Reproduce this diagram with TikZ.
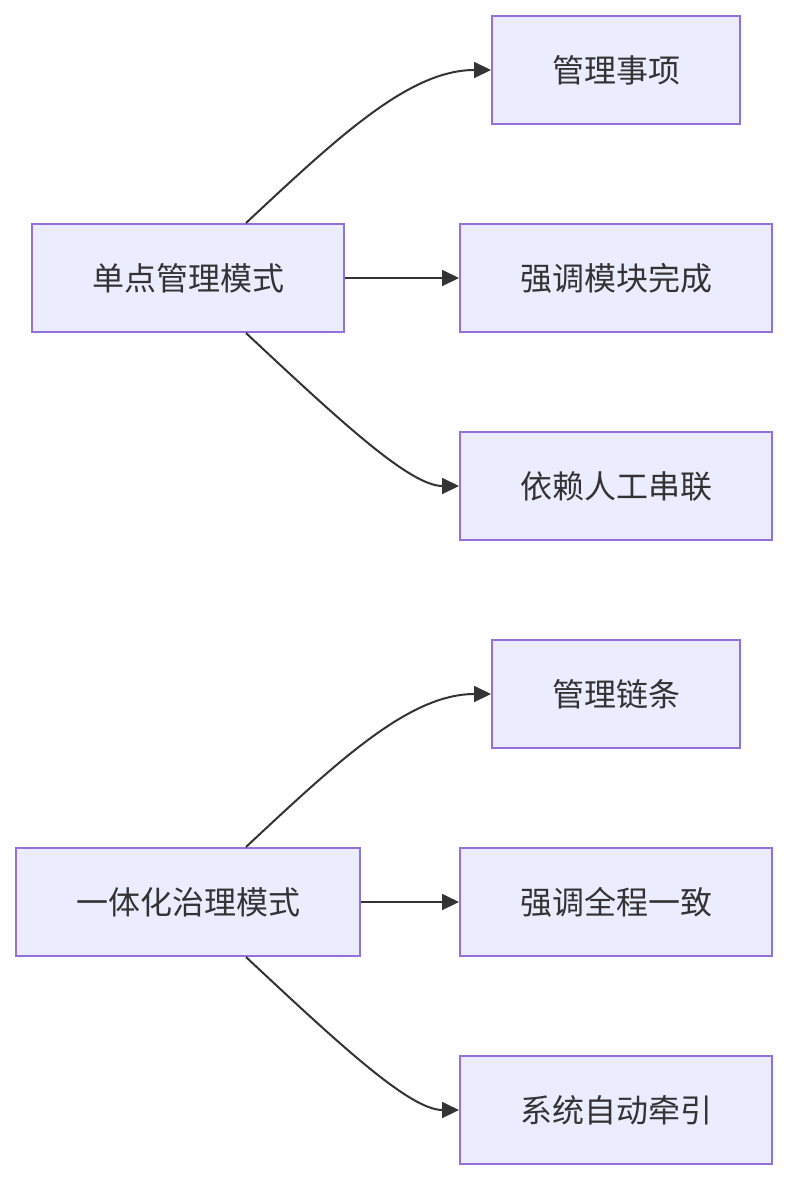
\documentclass[tikz,border=0pt]{standalone}
\usepackage{fontspec}
\setmainfont{Noto Sans CJK SC}
\usetikzlibrary{arrows.meta}
\definecolor{nodefill}{HTML}{ECECFF}
\definecolor{nodeborder}{HTML}{9370DB}
\definecolor{ink}{HTML}{333333}
\begin{document}
\begin{tikzpicture}[x=1pt,y=-1pt,
  box/.style={draw=nodeborder,fill=nodefill,line width=2pt,minimum height=108pt,inner sep=0pt,text=ink,font=\fontsize{32}{38}\selectfont},
  wbox/.style={box,minimum width=248pt},
  mbox/.style={box,minimum width=312pt},
  lbox/.style={box,minimum width=344pt},
  link/.style={draw=ink,line width=2pt,-{Triangle[length=17pt,width=16pt]}}]
\useasboundingbox (0,0) rectangle (788,1180);
% group 1
\node[mbox] (a) at (188,278) {单点管理模式};
\node[wbox] (a1) at (616,70) {管理事项};
\node[mbox] (a2) at (616,278) {强调模块完成};
\node[mbox] (a3) at (616,486) {依赖人工串联};
\draw[link] (246,223) .. controls (340,135) and (410,70) .. (a1.west);
\draw[link] (a.east) -- (a2.west);
\draw[link] (246,333) .. controls (340,421) and (410,486) .. (a3.west);
% group 2
\node[lbox] (b) at (188,902) {一体化治理模式};
\node[wbox] (b1) at (616,694) {管理链条};
\node[mbox] (b2) at (616,902) {强调全程一致};
\node[mbox] (b3) at (616,1110) {系统自动牵引};
\draw[link] (246,847) .. controls (340,759) and (410,694) .. (b1.west);
\draw[link] (b.east) -- (b2.west);
\draw[link] (246,957) .. controls (340,1045) and (410,1110) .. (b3.west);
\end{tikzpicture}
\end{document}
